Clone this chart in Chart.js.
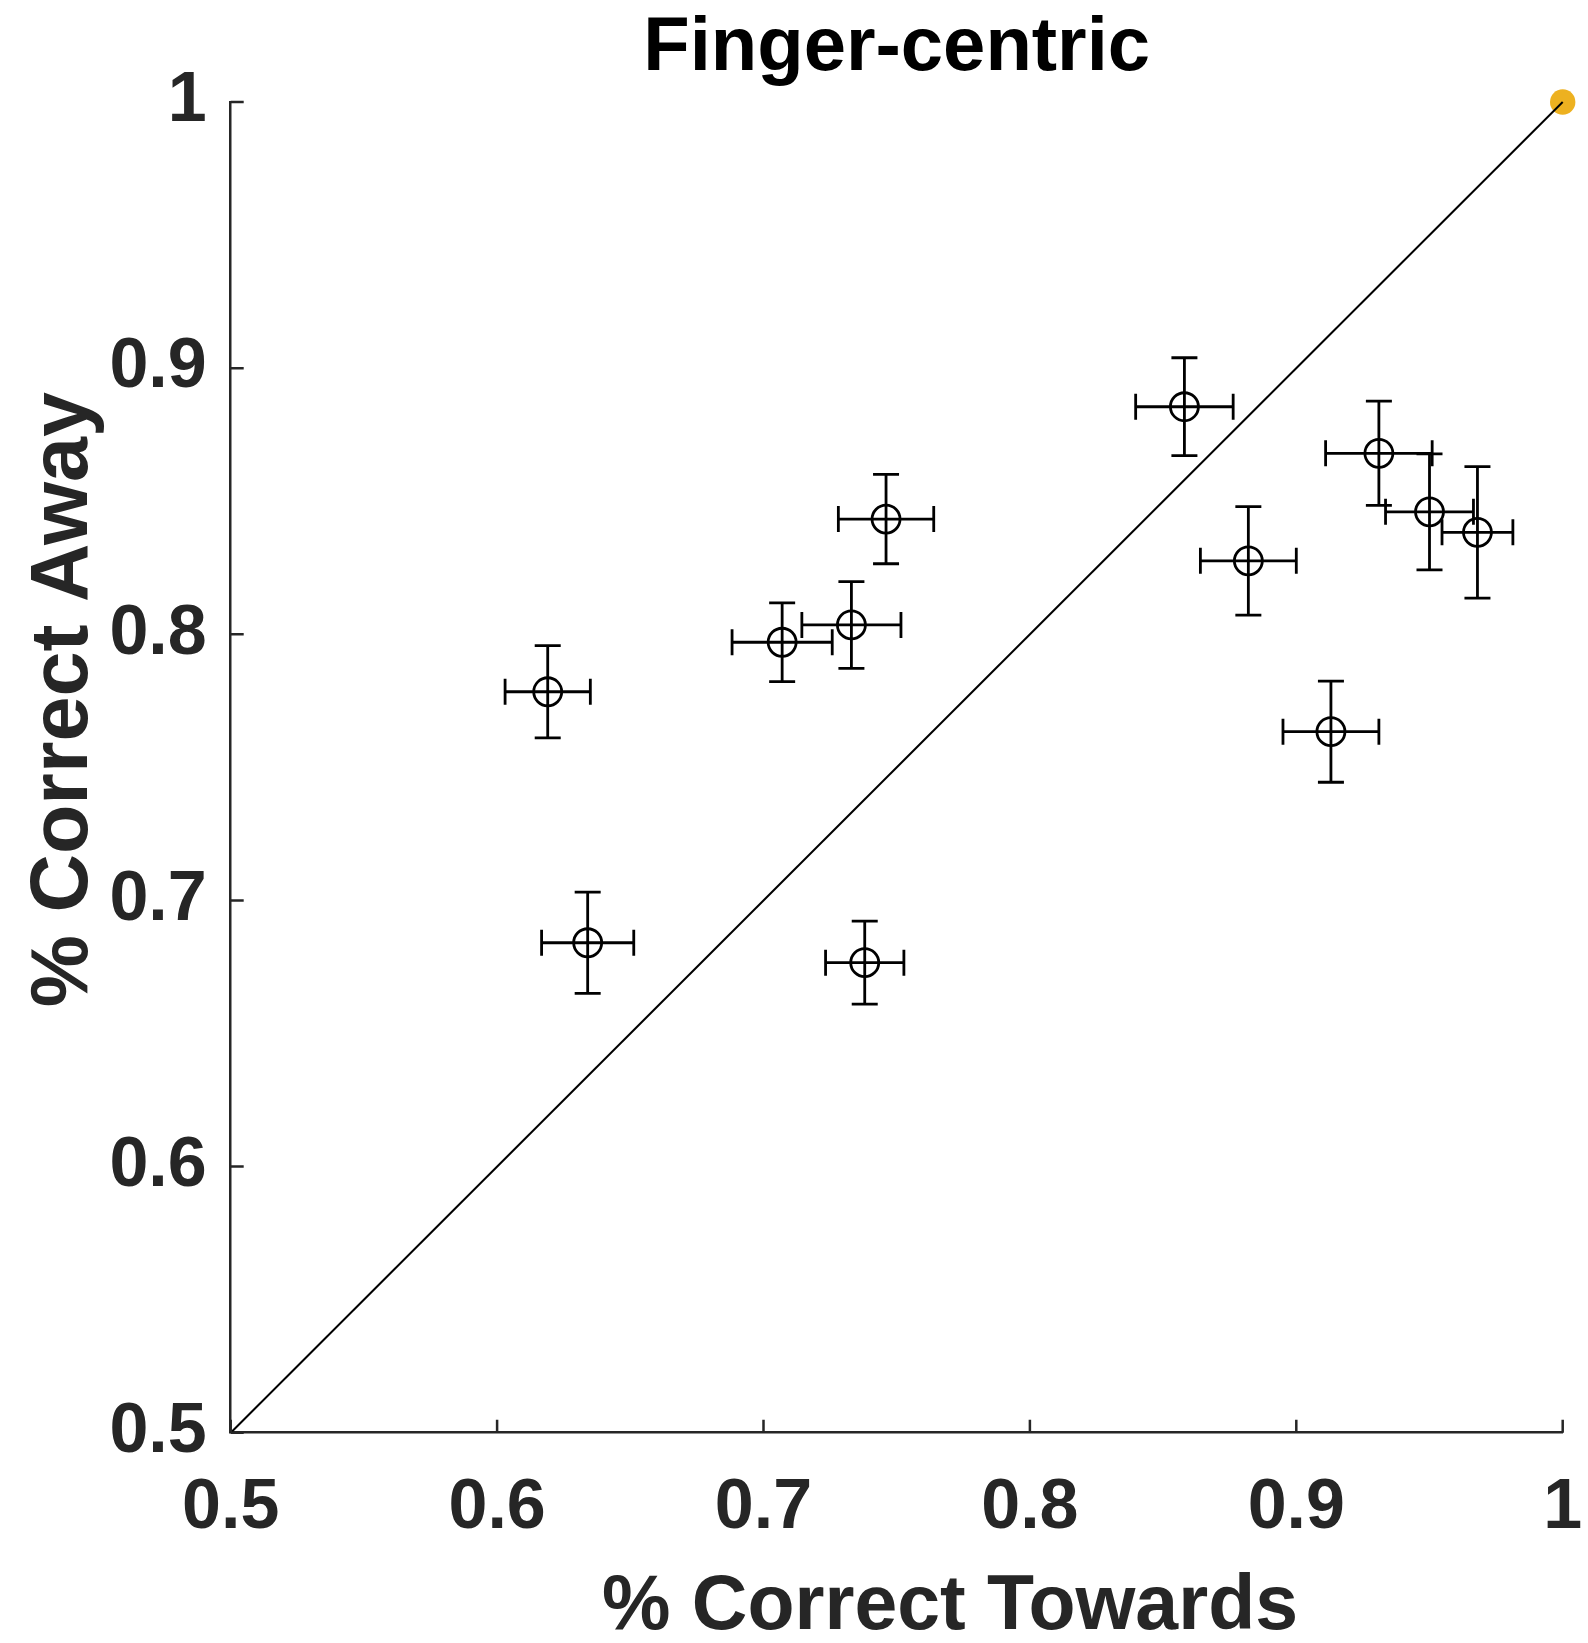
<!DOCTYPE html>
<html>
<head>
<meta charset="utf-8">
<title>Finger-centric</title>
<script src="https://cdn.jsdelivr.net/npm/chart.js@4.4.1/dist/chart.umd.min.js"></script>
<style>
    html, body { margin: 0; padding: 0; background: #ffffff; }
    #wrap { width: 1588px; height: 1643px; }
</style>
</head>
<body>
<div id="wrap"><canvas id="chart" width="1588" height="1643"></canvas></div>
<script>
// Per-subject accuracy
const towards    = [0.858, 0.931, 0.950, 0.968, 0.882, 0.746, 0.733, 0.707, 0.619, 0.634, 0.738, 0.913];
const away       = [0.8855, 0.868, 0.846, 0.8383, 0.8276, 0.8433, 0.8035, 0.797, 0.7784, 0.6841, 0.6766, 0.7634];
const towardsErr = [0.0183, 0.020, 0.0165, 0.0133, 0.018, 0.0179, 0.0186, 0.0188, 0.016, 0.0173, 0.0147, 0.018];
const awayErr    = [0.0184, 0.0196, 0.0218, 0.0247, 0.0204, 0.0168, 0.0163, 0.0148, 0.0173, 0.019, 0.0156, 0.019];

// Unity line and the ideal-performance marker
const unityLine = [0.5, 1];
const refPoint  = [1, 1];

// Axes
const tickValues = [0.5, 0.6, 0.7, 0.8, 0.9, 1];
const tickLabels = ['0.5', '0.6', '0.7', '0.8', '0.9', '1'];
const titleText  = 'Finger-centric';
const xLabel     = '% Correct Towards';
const yLabel     = '% Correct Away';

const FONT = '"Liberation Sans", Arial, Helvetica, sans-serif';
const INK = '#262626';

(function () {
    const canvas = document.getElementById('chart');

    // Error bars with end caps, drawn through the chart's own scales
    const errorBarPlugin = {
        id: 'errorBars',
        afterDatasetsDraw(chart) {
            const xs = chart.scales.x, ys = chart.scales.y;
            const ctx = chart.ctx;
            const cap = 13;
            ctx.save();
            ctx.strokeStyle = '#000';
            ctx.lineWidth = 2.8;
            towards.forEach((tx, i) => {
                const cx = xs.getPixelForValue(tx);
                const cy = ys.getPixelForValue(away[i]);
                const x0 = xs.getPixelForValue(tx - towardsErr[i]);
                const x1 = xs.getPixelForValue(tx + towardsErr[i]);
                const y0 = ys.getPixelForValue(away[i] - awayErr[i]);
                const y1 = ys.getPixelForValue(away[i] + awayErr[i]);
                ctx.beginPath();
                ctx.moveTo(x0, cy); ctx.lineTo(x1, cy);
                ctx.moveTo(x0, cy - cap); ctx.lineTo(x0, cy + cap);
                ctx.moveTo(x1, cy - cap); ctx.lineTo(x1, cy + cap);
                ctx.moveTo(cx, y0); ctx.lineTo(cx, y1);
                ctx.moveTo(cx - cap, y0); ctx.lineTo(cx + cap, y0);
                ctx.moveTo(cx - cap, y1); ctx.lineTo(cx + cap, y1);
                ctx.stroke();
            });
            ctx.restore();
        }
    };

    // MATLAB-style inward tick marks plus the two axis labels
    const axisDecorPlugin = {
        id: 'axisDecor',
        afterDraw(chart) {
            const xs = chart.scales.x, ys = chart.scales.y;
            const area = chart.chartArea;
            const ctx = chart.ctx;
            const len = 13;
            ctx.save();
            ctx.strokeStyle = INK;
            ctx.lineWidth = 2.5;
            ctx.beginPath();
            tickValues.forEach(v => {
                const px = xs.getPixelForValue(v);
                ctx.moveTo(px, area.bottom); ctx.lineTo(px, area.bottom - len);
                const py = ys.getPixelForValue(v);
                ctx.moveTo(area.left, py); ctx.lineTo(area.left + len, py);
            });
            ctx.stroke();

            ctx.fillStyle = INK;
            ctx.textAlign = 'center';
            ctx.textBaseline = 'alphabetic';
            ctx.font = 'bold 77px ' + FONT;
            ctx.fillText(xLabel, 950, 1629);

            ctx.font = 'bold 81px ' + FONT;
            ctx.translate(87, 699.5);
            ctx.rotate(-Math.PI / 2);
            ctx.fillText(yLabel, 0, 0);
            ctx.restore();
        }
    };

    const tickFont = { family: FONT, size: 70, weight: 'bold' };

    new Chart(canvas.getContext('2d'), {
        type: 'scatter',
        data: {
            datasets: [
                {
                    // unity line
                    data: unityLine.map(v => ({ x: v, y: v })),
                    showLine: true,
                    borderColor: '#000',
                    borderWidth: 2,
                    pointRadius: 0,
                    clip: false
                },
                {
                    data: towards.map((v, i) => ({ x: v, y: away[i] })),
                    pointStyle: 'circle',
                    pointRadius: 14,
                    pointBorderWidth: 2.8,
                    borderColor: '#000',
                    backgroundColor: 'rgba(0,0,0,0)',
                    clip: false
                },
                {
                    data: [{ x: refPoint[0], y: refPoint[1] }],
                    pointRadius: 12.7,
                    pointBorderWidth: 0,
                    backgroundColor: '#EDB120',
                    borderColor: '#EDB120',
                    clip: false
                }
            ]
        },
        options: {
            responsive: false,
            animation: false,
            events: [],
            layout: { autoPadding: false, padding: { left: 0, right: 25.3, top: 0, bottom: 0 } },
            plugins: {
                legend: { display: false },
                tooltip: { enabled: false },
                title: {
                    display: true,
                    text: titleText,
                    fullSize: false,
                    color: '#000',
                    font: { family: FONT, size: 76, weight: 'bold', lineHeight: 1.2 },
                    padding: { top: 3, bottom: 7.8 }
                }
            },
            scales: {
                x: {
                    type: 'linear',
                    min: 0.5,
                    max: 1,
                    afterFit(scale) {
                        scale.height = 210.3;
                        // labels fit inside the margins already; don't let them shrink the plot
                        scale.paddingLeft = 0;
                        scale.paddingRight = 0;
                    },
                    afterBuildTicks(scale) { scale.ticks = tickValues.map(v => ({ value: v })); },
                    ticks: {
                        color: INK,
                        font: tickFont,
                        padding: 34,
                        maxRotation: 0,
                        callback: (v, i) => tickLabels[i]
                    },
                    grid: { display: true, drawOnChartArea: false, drawTicks: false },
                    border: { display: true, color: INK, width: 2.5 }
                },
                y: {
                    type: 'linear',
                    min: 0.5,
                    max: 1,
                    afterFit(scale) { scale.width = 230.7; },
                    afterBuildTicks(scale) { scale.ticks = tickValues.map(v => ({ value: v })); },
                    ticks: {
                        color: INK,
                        font: tickFont,
                        padding: 24,
                        callback: (v, i) => tickLabels[i]
                    },
                    grid: { display: true, drawOnChartArea: false, drawTicks: false },
                    border: { display: true, color: INK, width: 2.5 }
                }
            }
        },
        plugins: [errorBarPlugin, axisDecorPlugin]
    });
})();
</script>
</body>
</html>
